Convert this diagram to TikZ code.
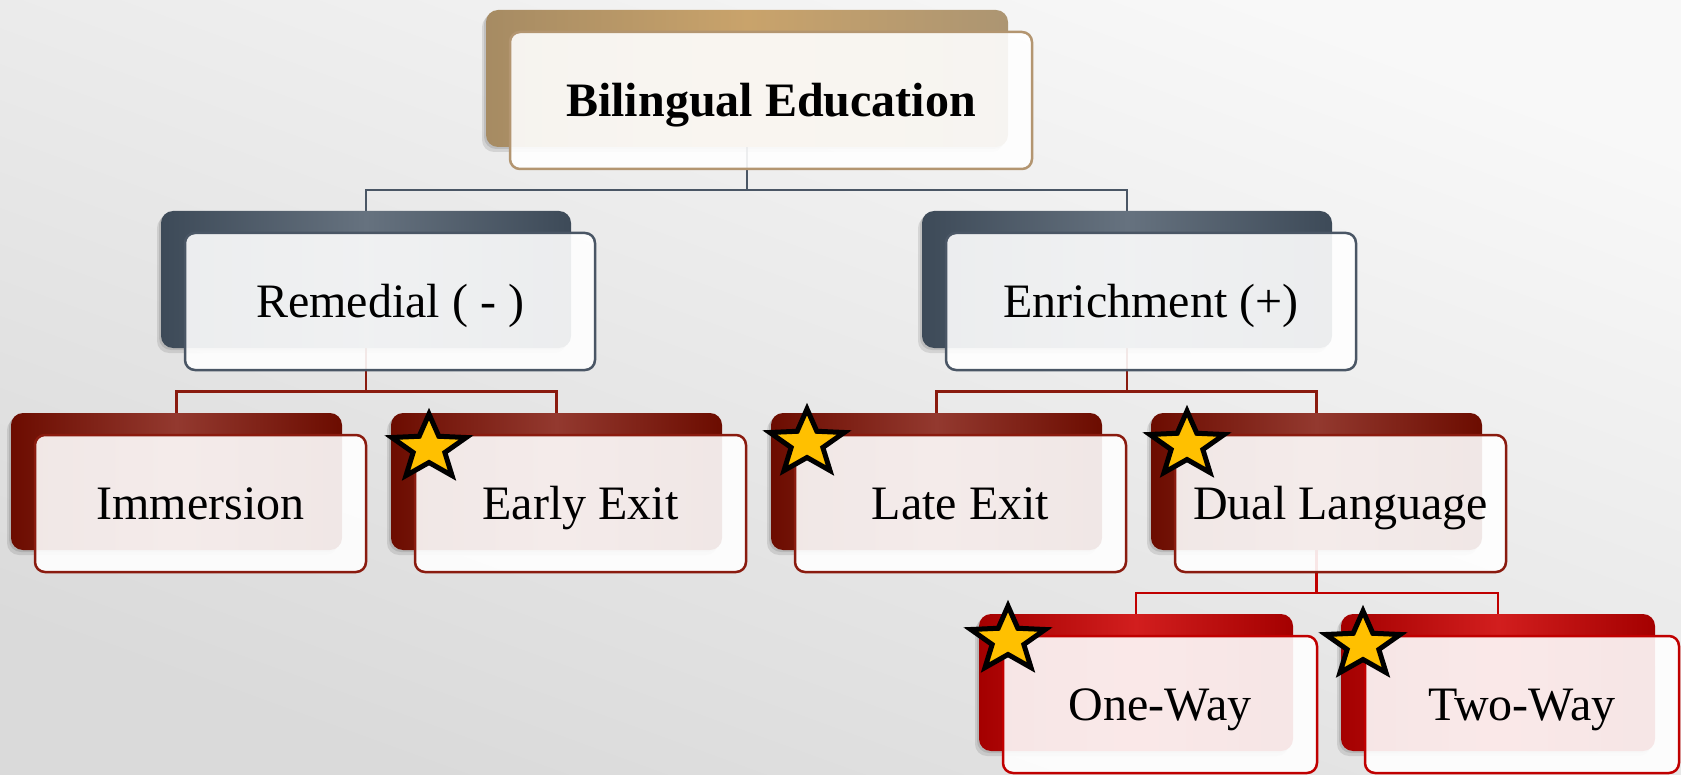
\documentclass[tikz,border=0pt]{standalone}
\usepackage{fontspec}
\setmainfont{Liberation Serif}
\usetikzlibrary{calc,shadows}

% palette: E = shading edge, M = shading middle, L = frame line
\definecolor{goldE}{HTML}{A68B63}
\definecolor{goldM}{HTML}{C9A36B}
\definecolor{goldR}{HTML}{AC9572}
\definecolor{goldL}{HTML}{B39570}
\definecolor{slateE}{HTML}{3D4A58}
\definecolor{slateM}{HTML}{66727F}
\definecolor{slateL}{HTML}{4A5665}
\definecolor{maroonE}{HTML}{6C0C00}
\definecolor{maroonM}{HTML}{93392F}
\definecolor{maroonL}{HTML}{8A1B0F}
\definecolor{redE}{HTML}{A40000}
\definecolor{redM}{HTML}{D21E1E}
\definecolor{redL}{HTML}{C00000}
\definecolor{starfill}{HTML}{FFC000}
\definecolor{paperTop}{HTML}{F8F8F8}
\definecolor{paperBot}{HTML}{DADADA}

\pgfdeclarelayer{paper}
\pgfdeclarelayer{wires}
\pgfsetlayers{paper,wires,main}

\tikzset{
  rearbox/.style={rectangle, rounded corners=6pt, minimum height=68.5pt,
    inner sep=0pt, outer sep=0pt,
    general shadow={fill=black, opacity=0.10, shadow xshift=-1pt, shadow yshift=-1pt},
    general shadow={fill=black, opacity=0.10, shadow xshift=-2pt, shadow yshift=-2.5pt}},
  facebox/.style={rectangle, rounded corners=5pt, minimum height=68.5pt,
    inner sep=0pt, outer sep=0pt, fill=white, fill opacity=0.9, text opacity=1,
    line width=1.25pt, font=\fontsize{24}{28}\selectfont,
    text height=17pt, text depth=1pt},
  goldrear/.style={rearbox, left color=goldE, right color=goldR, middle color=goldM},
  slaterear/.style={rearbox, left color=slateE, right color=slateE, middle color=slateM},
  maroonrear/.style={rearbox, left color=maroonE, right color=maroonE, middle color=maroonM},
  redrear/.style={rearbox, left color=redE, right color=redE, middle color=redM},
  goldface/.style={facebox, draw=goldL},
  slateface/.style={facebox, draw=slateL},
  maroonface/.style={facebox, draw=maroonL},
  redface/.style={facebox, draw=redL},
  wire/.style={line width=1.4pt},
  starmark/.style={fill=starfill, draw=black, line width=2.5pt, line join=miter, miter limit=10}
}

% #1 name, #2 palette, #3 left x, #4 top y of the rear plate, #5 width, #6 label
\newcommand\tierpair[6]{%
  \node[#2rear, minimum width=#5*0.5pt] (#1B) at (#3+#5/2, #4+68.5) {};
  \node[#2face, minimum width=#5*0.5pt] (#1) at ($(#1B)+(24,22)$) {#6};
}

% five-pointed star centred at (#1,#2)
\newcommand\goldstar[2]{%
  \draw[starmark, shift={(#1,#2)}, xscale=1.15]
    (270:34) -- (306:14.5) -- (342:34) -- (18:14.5) -- (54:34) -- (90:14.5)
    -- (126:34) -- (162:14.5) -- (198:34) -- (234:14.5) -- cycle;
}

\begin{document}
\begin{tikzpicture}[x=0.5pt, y=-0.5pt]
  \useasboundingbox (0,0) rectangle (1681,775);
  \begin{pgfonlayer}{paper}
    \shade[top color=paperTop, bottom color=paperBot, shading angle=-20]
      (0,0) rectangle (1681,775);
  \end{pgfonlayer}

  % boxes
  \tierpair{top}{gold}{486}{10}{522}{\bfseries Bilingual Education}
  \tierpair{rem}{slate}{161}{211}{410}{Remedial ( - )}
  \tierpair{enr}{slate}{922}{211}{410}{Enrichment (+)}
  \tierpair{imm}{maroon}{11}{413}{331}{Immersion}
  \tierpair{early}{maroon}{391}{413}{331}{Early Exit}
  \tierpair{late}{maroon}{771}{413}{331}{Late Exit}
  \tierpair{dual}{maroon}{1151}{413}{331}{Dual Language}
  \tierpair{one}{red}{979}{614}{314}{One-Way}
  \tierpair{two}{red}{1341}{614}{314}{Two-Way}

  % connectors
  \begin{pgfonlayer}{wires}
    \coordinate (j0) at ($(top.south)!.5!(remB.north)$);
    \coordinate (j1) at ($(rem.south)!.5!(immB.north)$);
    \coordinate (j2) at ($(dual.south)!.5!(oneB.north)$);
    \draw[wire, slateL] (topB.south) -- (topB.south |- j0) -| (remB.north);
    \draw[wire, slateL] (topB.south |- j0) -| (enrB.north);
    \draw[wire, maroonL] (remB.south) -- (remB.south |- j1) -| (immB.north);
    \draw[wire, maroonL] (remB.south |- j1) -| (earlyB.north);
    \draw[wire, maroonL] (enrB.south) -- (enrB.south |- j1) -| (lateB.north);
    \draw[wire, maroonL] (enrB.south |- j1) -| (dualB.north);
    \draw[wire, redL] (dualB.south) -- (dualB.south |- j2) -| (oneB.north);
    \draw[wire, redL] (dualB.south |- j2) -| (twoB.north);
  \end{pgfonlayer}

  % stars
  \goldstar{429}{448}
  \goldstar{807}{443}
  \goldstar{1187}{445}
  \goldstar{1008}{640}
  \goldstar{1363}{645}
\end{tikzpicture}
\end{document}
